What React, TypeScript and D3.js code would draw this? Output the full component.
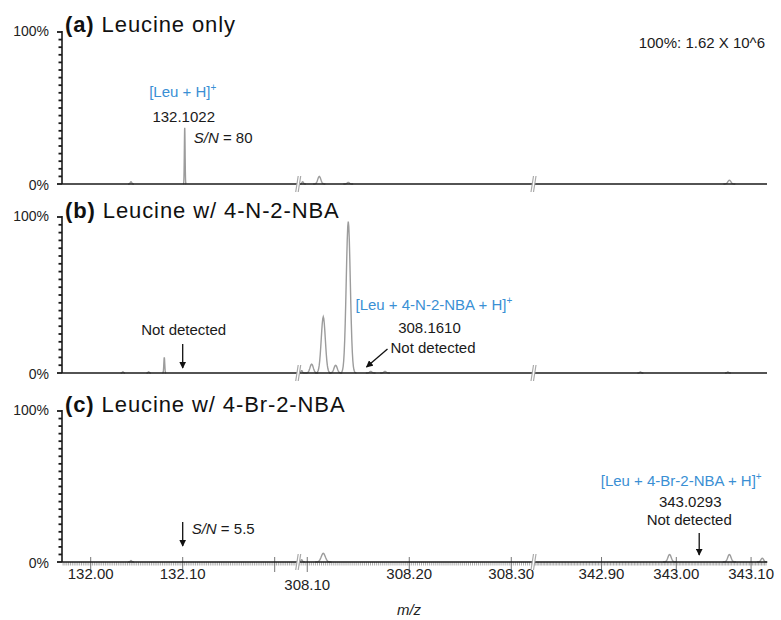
import React, { useEffect, useRef } from 'react';
import * as d3 from 'd3';

// m/z windows of the three broken x-axis segments
const segDomains: [number, number][] = [
    [131.9688, 132.2248],
    [308.0919, 308.3213],
    [342.8097, 343.1213],
];
const tickValues = [
    [132.0, 132.1, 132.2],
    [308.1, 308.2, 308.3],
    [342.9, 343.0, 343.1],
];
const tickLabels = [
    ['132.00', '132.10', ''],
    ['308.10', '308.20', '308.30'],
    ['342.90', '343.00', '343.10'],
];
const yTicks = d3.range(0, 101, 5);

const panelLetters = ['(a)', '(b)', '(c)'];
const panelTitles = ['Leucine only', 'Leucine w/ 4-N-2-NBA', 'Leucine w/ 4-Br-2-NBA'];

// [segment, m/z, relative intensity %, sigma in m/z]
const peaksA: [number, number, number, number][] = [
    [0, 132.0438, 1.5, 0.0008],
    [0, 132.1022, 37, 0.0004],
    [1, 308.0955, 1.5, 0.0008],
    [1, 308.1118, 5, 0.0015],
    [1, 308.1402, 1, 0.0012],
    [2, 343.071, 2.5, 0.002],
];
const peaksB: [number, number, number, number][] = [
    [0, 132.035, 0.8, 0.0006],
    [0, 132.063, 0.8, 0.0006],
    [0, 132.08, 10, 0.0005],
    [1, 308.0945, 1.5, 0.0008],
    [1, 308.1043, 5.7, 0.0016],
    [1, 308.1157, 36, 0.002],
    [1, 308.1278, 5, 0.0016],
    [1, 308.1402, 97, 0.002],
    [1, 308.1622, 1, 0.0012],
    [1, 308.1762, 1, 0.0012],
    [2, 342.952, 0.7, 0.001],
    [2, 343.069, 0.7, 0.001],
];
const peaksC: [number, number, number, number][] = [
    [0, 132.0438, 1, 0.0008],
    [1, 308.0945, 1.5, 0.0008],
    [1, 308.1157, 5.7, 0.002],
    [2, 342.991, 5, 0.0022],
    [2, 343.071, 5, 0.0022],
    [2, 343.115, 2.5, 0.0018],
];
const allPeaks = [peaksA, peaksB, peaksC];

const FONT = "'Liberation Sans', Arial, sans-serif";
const BLUE = '#3a8fd4';

const App: React.FC = () => {
    const ref = useRef<SVGSVGElement | null>(null);

    useEffect(() => {
        if (!ref.current) return;
        const width = 781;
        const height = 620;
        const svg = d3.select(ref.current).attr('width', width).attr('height', height);
        svg.selectAll('*').remove();

        const segRanges: [number, number][] = [[62, 297.5], [299, 533], [534, 767]];
        const xs = segDomains.map((d, i) => d3.scaleLinear().domain(d).range(segRanges[i]));
        const panelTop = [32, 217, 411];
        const panelBot = [184, 373, 562];
        const breaks = [298.2, 533.5];

        const defs = svg.append('defs');
        defs.append('marker')
            .attr('id', 'arr')
            .attr('viewBox', '0 0 10 10')
            .attr('refX', 9).attr('refY', 5)
            .attr('markerWidth', 7).attr('markerHeight', 7)
            .attr('markerUnits', 'userSpaceOnUse')
            .attr('orient', 'auto')
            .append('path').attr('d', 'M0,0 L10,5 L0,10 Z').attr('fill', '#111');

        const arrow = (g: any, x1: number, y1: number, x2: number, y2: number) => {
            g.append('line')
                .attr('x1', x1).attr('y1', y1).attr('x2', x2).attr('y2', y2)
                .attr('stroke', '#111').attr('stroke-width', 1.3)
                .attr('marker-end', 'url(#arr)');
        };
        const txt = (g: any, x: number, y: number, s: string, anchor = 'middle', color = '#1a1a1a', size = 15) =>
            g.append('text')
                .attr('x', x).attr('y', y)
                .attr('text-anchor', anchor)
                .style('font-family', FONT).style('font-size', `${size}px`)
                .attr('fill', color)
                .text(s);
        const ion = (g: any, x: number, y: number, s: string, anchor: string) => {
            const t = g.append('text')
                .attr('x', x).attr('y', y).attr('text-anchor', anchor)
                .style('font-family', FONT).style('font-size', '15px')
                .attr('fill', BLUE);
            t.append('tspan').text(s);
            t.append('tspan').attr('dy', -6).style('font-size', '10px').text('+');
        };
        const sn = (g: any, x: number, y: number, val: string) => {
            const t = g.append('text')
                .attr('x', x).attr('y', y)
                .style('font-family', FONT).style('font-size', '15px')
                .attr('fill', '#1a1a1a');
            t.append('tspan').style('font-style', 'italic').text('S/N');
            t.append('tspan').text(` = ${val}`);
        };

        panelTop.forEach((top, p) => {
            const y0 = panelBot[p];
            const y = d3.scaleLinear().domain([0, 100]).range([y0, top]);
            const g = svg.append('g');

            // peaks
            const line = d3.line<[number, number]>().x(d => d[0]).y(d => d[1]);
            allPeaks[p].forEach(([s, mz, h, sg]) => {
                const pts: [number, number][] = d3.range(-4, 4.01, 0.25).map(k => {
                    const m = mz + k * sg;
                    return [xs[s](m), y(h * Math.exp(-0.5 * k * k))];
                });
                g.append('path')
                    .attr('d', line(pts))
                    .attr('fill', 'none')
                    .attr('stroke', '#9c9c9c')
                    .attr('stroke-width', 1.4);
            });

            // x ticks only on the bottom panel
            if (p === 2) {
                xs.forEach((x, s) => {
                    const [a, b] = segDomains[s];
                    d3.range(Math.ceil(a / 0.002) * 0.002, b, 0.002).forEach(v => {
                        g.append('line')
                            .attr('x1', x(v)).attr('x2', x(v))
                            .attr('y1', y0).attr('y2', y0 + 3.5)
                            .attr('stroke', '#8a8a8a').attr('stroke-width', 0.7);
                    });
                    tickValues[s].forEach((v, i) => {
                        g.append('line')
                            .attr('x1', x(v)).attr('x2', x(v))
                            .attr('y1', y0 - 5).attr('y2', y0 + 10)
                            .attr('stroke', '#777').attr('stroke-width', 1);
                        if (tickLabels[s][i]) {
                            const dy = tickLabels[s][i] === '308.10' ? 11 : 0;
                            txt(g, x(v), y0 + 17 + dy, tickLabels[s][i], 'middle', '#222', 15);
                        }
                    });
                });
            }

            // baseline
            g.append('line')
                .attr('x1', 62).attr('x2', 767)
                .attr('y1', y0).attr('y2', y0)
                .attr('stroke', '#1a1a1a').attr('stroke-width', 1.6);

            // axis break marks
            breaks.forEach(bx => {
                g.append('polygon')
                    .attr('points', `${bx - 2.5},${y0 + 8} ${bx},${y0 + 8} ${bx + 2.5},${y0 - 8} ${bx},${y0 - 8}`)
                    .attr('fill', '#fff');
                [-1.25, 1.25].forEach(o => {
                    g.append('line')
                        .attr('x1', bx + o - 1.25).attr('y1', y0 + 8)
                        .attr('x2', bx + o + 1.25).attr('y2', y0 - 8)
                        .attr('stroke', '#a8a8a8').attr('stroke-width', 1.2);
                });
            });

            // y axis
            g.append('line')
                .attr('x1', 62).attr('x2', 62)
                .attr('y1', y(100) - 1).attr('y2', y0)
                .attr('stroke', '#1a1a1a').attr('stroke-width', 1.6);
            yTicks.forEach(v => {
                g.append('line')
                    .attr('x1', v % 100 === 0 ? 57 : 58.5).attr('x2', 62)
                    .attr('y1', y(v)).attr('y2', y(v))
                    .attr('stroke', '#1a1a1a').attr('stroke-width', 1.8);
            });
            txt(g, 49, y(100) + 4, '100%', 'end', '#222', 14);
            txt(g, 49, y0 + 6, '0%', 'end', '#222', 14);

            // title
            const t = g.append('text')
                .attr('x', 65).attr('y', top + (p === 0 ? 0 : 1) - 0)
                .style('font-family', FONT).style('font-size', '22px')
                .style('letter-spacing', '0.9px')
                .attr('fill', '#111');
            t.append('tspan').style('font-weight', 'bold').text(panelLetters[p]);
            t.append('tspan').text(` ${panelTitles[p]}`);

            // annotations
            if (p === 0) {
                txt(g, 765, 48, '100%: 1.62 X 10^6', 'end', '#1a1a1a', 15);
                const px = xs[0](132.1022);
                ion(g, px - 2, y0 - 87, '[Leu + H]', 'middle');
                txt(g, px - 1, y0 - 62, '132.1022');
                sn(g, px + 9, y0 - 41, '80');
            } else if (p === 1) {
                const ax = xs[0](132.1);
                txt(g, ax + 1, y0 - 38, 'Not detected');
                arrow(g, ax, y0 - 29, ax, y0 - 5);
                const tx = xs[1](308.161);
                ion(g, tx - 14, y0 - 63, '[Leu + 4-N-2-NBA + H]', 'start');
                txt(g, tx + 60, y0 - 40, '308.1610');
                txt(g, tx + 21, y0 - 20, 'Not detected', 'start');
                arrow(g, tx + 18, y0 - 24, tx - 3, y0 - 6);
            } else {
                const ax = xs[0](132.1);
                arrow(g, ax, y0 - 40, ax, y0 - 16);
                sn(g, ax + 9, y0 - 28, '5.5');
                const tx = xs[2](343.0293);
                ion(g, tx - 17, y0 - 76, '[Leu + 4-Br-2-NBA + H]', 'middle');
                txt(g, tx - 8, y0 - 55, '343.0293');
                txt(g, tx - 9, y0 - 37, 'Not detected');
                arrow(g, tx + 1, y0 - 29, tx + 1, y0 - 7);
            }
        });

        svg.append('text')
            .attr('x', 409).attr('y', 615)
            .attr('text-anchor', 'middle')
            .style('font-family', FONT).style('font-size', '15px')
            .style('font-style', 'italic')
            .attr('fill', '#222')
            .text('m/z');
    }, []);

    return (
        <div style={{ position: 'absolute', left: 0, top: 0, background: '#fff' }}>
            <svg ref={ref} style={{ display: 'block' }} />
        </div>
    );
};

export default App;
